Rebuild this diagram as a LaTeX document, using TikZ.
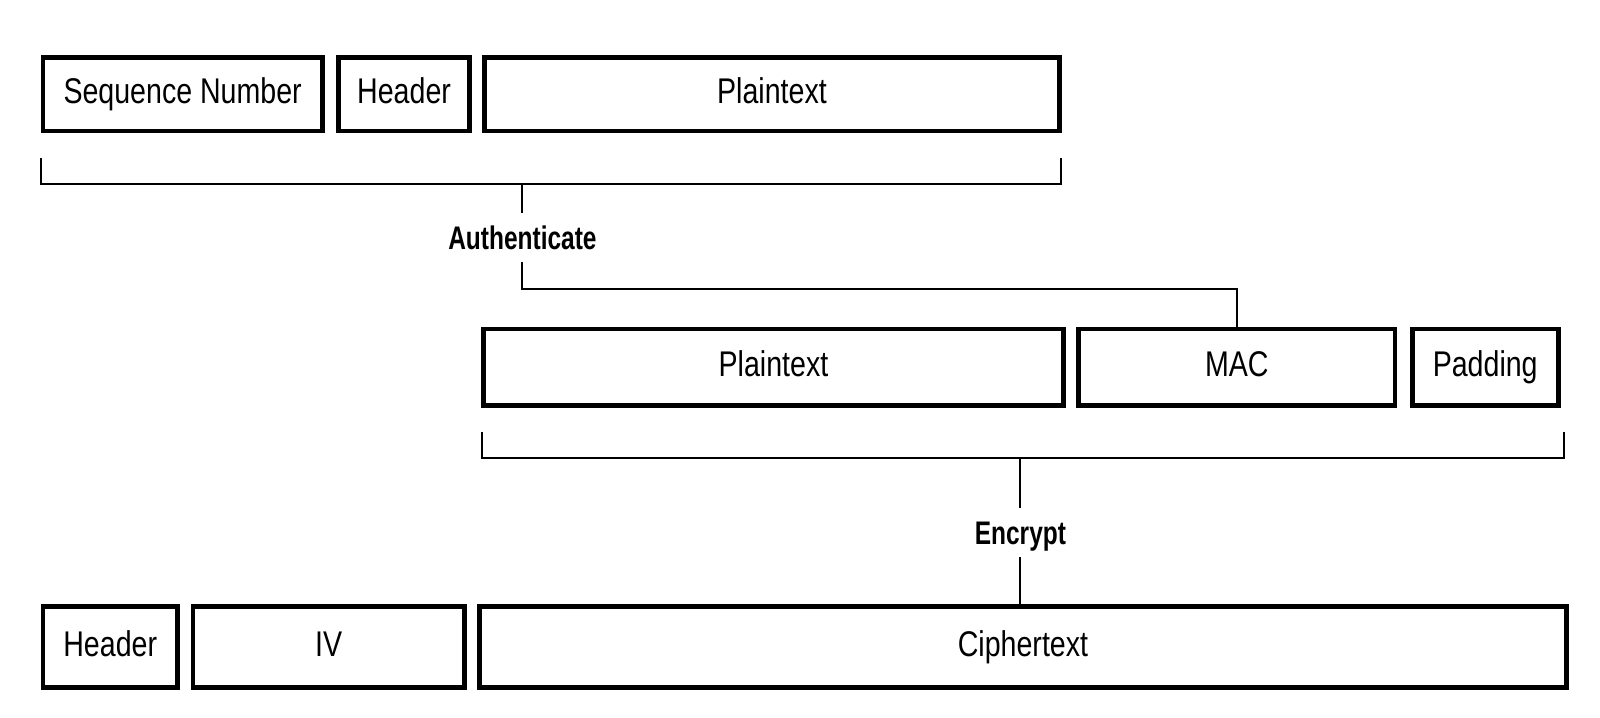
\documentclass[tikz,border=0pt]{standalone}
\usepackage{fontspec}
\setmainfont{Liberation Sans}[FakeStretch=0.8]
\newfontfamily\lblfont{Liberation Sans}[FakeStretch=0.75]
\begin{document}
\begin{tikzpicture}[x=0.5pt,y=-0.5pt,
  blk/.style={draw=black, line width=2.3pt, rectangle, inner sep=0pt,
    font=\fontsize{17.5}{20}\selectfont, text height=12.6pt, text depth=3.6pt},
  brk/.style={draw=black, line width=1pt},
  lbl/.style={inner xsep=0pt, inner ysep=6pt, text height=11.5pt, text depth=0pt,
    font=\lblfont\bfseries\fontsize{16}{18}\selectfont}]
\useasboundingbox[fill=white] (0,0) rectangle (1568,703.6);
% row 1
\node[blk, minimum width=137pt, minimum height=36pt] (seq) at (179,92.5) {Sequence Number};
\node[blk, minimum width=64pt, minimum height=36pt] (hdr1) at (396,92.5) {Header};
\node[blk, minimum width=281.5pt, minimum height=36pt] (pt1) at (756.5,92.5) {Plaintext};
% bracket 1
\coordinate (b1l) at (40,155);
\coordinate (b1r) at (1040,155);
\coordinate (b1s) at (512,180);
\draw[brk] (b1l) -- (40,180) -- (1040,180) -- (b1r);
\node[lbl] (auth) at (512,233) {Authenticate};
\draw[brk] (b1s) -- (auth.north);
% row 2
\node[blk, minimum width=284pt, minimum height=37.5pt] (pt2) at (758,360) {Plaintext};
\node[blk, minimum width=155pt, minimum height=37.5pt] (mac) at (1212,360) {MAC};
\node[blk, minimum width=71.5pt, minimum height=37.5pt] (pad) at (1455.5,360) {Padding};
\draw[brk] (auth.south) -- (512,283) -| (mac.north);
% bracket 2
\coordinate (b2l) at (472,423);
\coordinate (b2r) at (1533,423);
\coordinate (b2s) at (1000,449);
\draw[brk] (b2l) -- (472,449) -- (1533,449) -- (b2r);
\node[lbl] (enc) at (1000,522) {Encrypt};
\draw[brk] (b2s) -- (enc.north);
% row 3
\node[blk, minimum width=66pt, minimum height=39.5pt] (hdr3) at (108,634) {Header};
\node[blk, minimum width=133pt, minimum height=39.5pt] (iv) at (322,634) {IV};
\node[blk, minimum width=532.5pt, minimum height=39.5pt] (ct) at (1002.5,634) {Ciphertext};
\draw[brk] (enc.south) -- (enc.south |- ct.north);
\end{tikzpicture}
\end{document}
